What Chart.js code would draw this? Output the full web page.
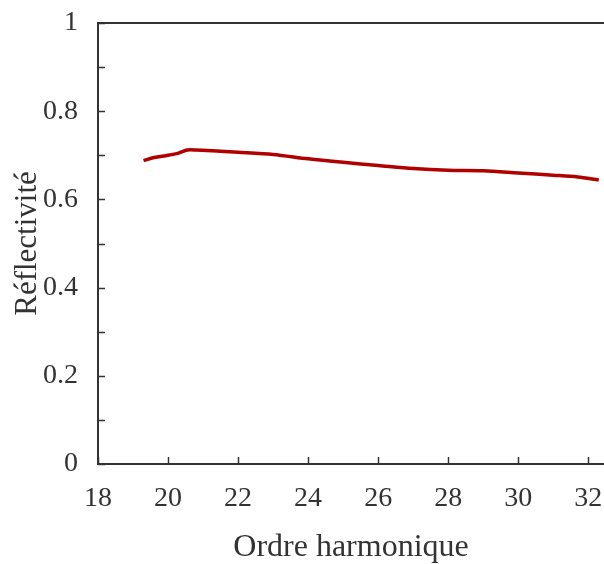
<!DOCTYPE html>
<html>
<head>
<meta charset="utf-8">
<script src="https://cdn.jsdelivr.net/npm/chart.js@4/dist/chart.umd.min.js"></script>
<style>
  html, body { margin: 0; padding: 0; background: #fff; }
  #wrap { width: 604px; height: 564px; }
</style>
</head>
<body>
<div id="wrap"><canvas id="c"></canvas></div>
<script>
// harmonic order vs reflectivity
const harmonicOrder = [19.3, 19.6, 20.0, 20.3, 20.55, 20.8, 21.5, 22, 23, 24, 25, 26, 27, 28, 29, 30, 31, 31.7, 32.3];
const reflectivity = [0.688, 0.695, 0.700, 0.705, 0.712, 0.712, 0.709, 0.707, 0.702, 0.692, 0.684, 0.677, 0.670, 0.666, 0.665, 0.660, 0.655, 0.651, 0.644];
const xTicks = [18, 20, 22, 24, 26, 28, 30, 32];
const yTicks = [0, 0.1, 0.2, 0.3, 0.4, 0.5, 0.6, 0.7, 0.8, 0.9, 1];

const axisColor = "#333";
const serif = "'Liberation Serif', 'DejaVu Serif', serif";

// frame lines + inward ticks
const frame = {
  id: "frame",
  afterDraw: (chart) => {
    const { ctx, chartArea: { left, right, top, bottom }, scales: { x, y } } = chart;
    ctx.save();
    ctx.strokeStyle = axisColor;
    ctx.lineWidth = 2;
    ctx.beginPath();
    ctx.moveTo(right, top);
    ctx.lineTo(left, top);
    ctx.lineTo(left, bottom);
    ctx.lineTo(right, bottom);
    ctx.stroke();
    ctx.lineWidth = 1.5;
    ctx.beginPath();
    xTicks.forEach((v) => {
      const px = Math.round(x.getPixelForValue(v)) + 0.5;
      ctx.moveTo(px, bottom);
      ctx.lineTo(px, bottom - 7);
    });
    yTicks.forEach((v) => {
      const py = Math.round(y.getPixelForValue(v)) + 0.5;
      ctx.moveTo(left, py);
      ctx.lineTo(left + 7, py);
    });
    ctx.stroke();
    ctx.restore();
  },
};

new Chart(document.getElementById("c"), {
  type: "line",
  data: {
    datasets: [
      {
        data: harmonicOrder.map((h, i) => ({ x: h, y: reflectivity[i] })),
        borderColor: "#b00000",
        borderWidth: 3.5,
        pointRadius: 0,
        tension: 0.3,
        fill: false,
      },
    ],
  },
  options: {
    responsive: true,
    maintainAspectRatio: false,
    animation: false,
    layout: { padding: { top: 23, right: 0, left: 0, bottom: 0 } },
    plugins: { legend: { display: false }, tooltip: { enabled: false } },
    scales: {
      x: {
        type: "linear",
        min: 18,
        max: 32.45,
        border: { display: false },
        grid: { display: false },
        afterFit: (s) => {
          s.height = 100;
          s.paddingLeft = 0;
          s.paddingRight = 0;
        },
        afterBuildTicks: (s) => { s.ticks = xTicks.map((v) => ({ value: v })); },
        ticks: {
          padding: 10,
          color: axisColor,
          maxRotation: 0,
          autoSkip: false,
          font: { family: serif, size: 28 },
        },
        title: {
          display: true,
          text: "Ordre harmonique",
          color: axisColor,
          padding: { top: 0, bottom: 0 },
          font: { family: serif, size: 32, lineHeight: 1 },
        },
      },
      y: {
        min: 0,
        max: 1,
        border: { display: false },
        grid: { display: false },
        afterFit: (s) => {
          s.width = 98;
          s.paddingTop = 0;
          s.paddingBottom = 0;
        },
        afterBuildTicks: (s) => { s.ticks = yTicks.map((v) => ({ value: v })); },
        ticks: {
          padding: 12,
          color: axisColor,
          autoSkip: false,
          font: { family: serif, size: 28 },
          callback: (v) => (Math.round(v * 10) % 2 === 0 ? String(+v.toFixed(1)) : ""),
        },
        title: {
          display: true,
          text: "Réflectivité",
          color: axisColor,
          padding: { top: 12, bottom: 0 },
          font: { family: serif, size: 31, lineHeight: 1 },
        },
      },
    },
  },
  plugins: [frame],
});
</script>
</body>
</html>
